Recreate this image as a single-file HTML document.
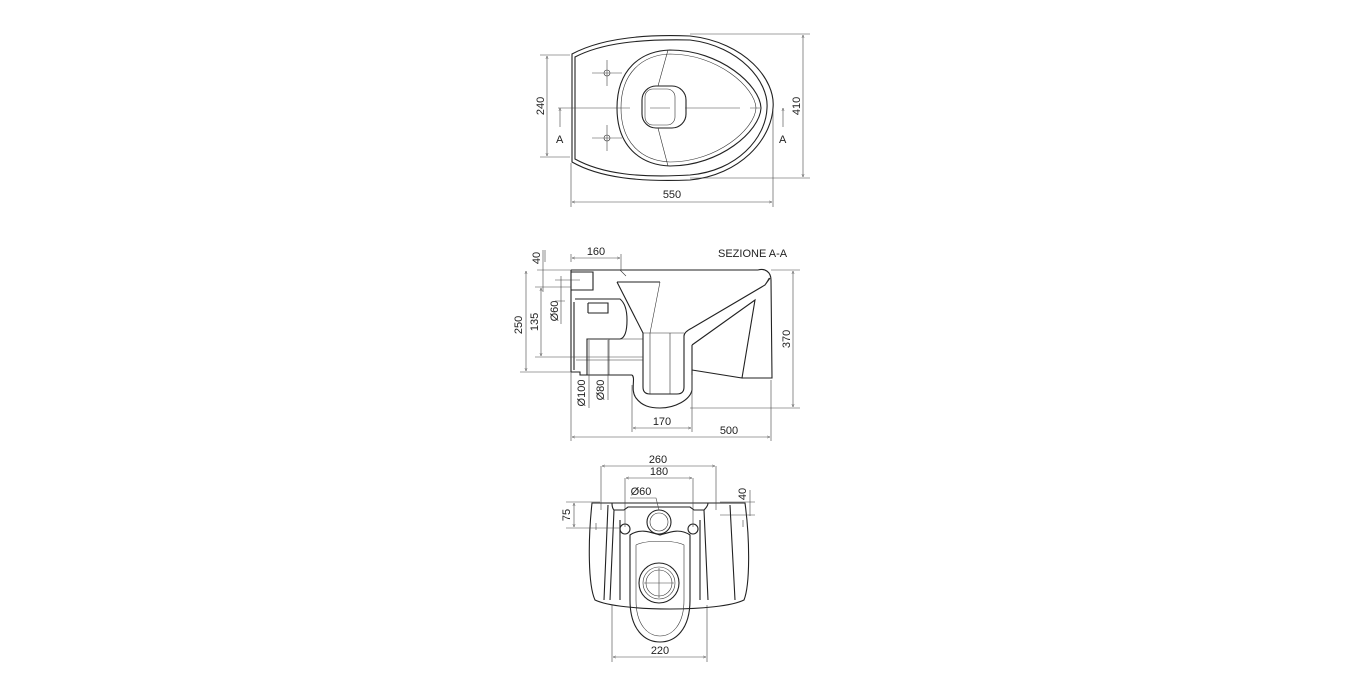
<!DOCTYPE html>
<html><head><meta charset="utf-8"><style>
html,body{margin:0;padding:0;background:#fff;}
svg{display:block;}
text{font-family:"Liberation Sans",sans-serif;font-size:11px;fill:#222;}
.l{fill:none;stroke:#222;stroke-width:1.1;}
.t{fill:none;stroke:#333;stroke-width:0.6;}
.d{fill:none;stroke:#444;stroke-width:0.6;}
</style></head><body>
<svg width="1366" height="678" viewBox="0 0 1366 678" xmlns="http://www.w3.org/2000/svg">
<defs><marker id="a" markerWidth="6" markerHeight="6" refX="5" refY="3" orient="auto-start-reverse"><path d="M0,1 L5,3 L0,5" fill="none" stroke="#444" stroke-width="0.6"/></marker></defs>

<!-- TOP VIEW -->
<path class="l" d="M572,54 C600,39 640,34 690,36 C745,42 776,80 773,108 C771,140 740,175 690,180 C640,182 600,178 572,162 Z"/>
<path class="l" d="M575,57 C602,43 640,39 690,40 C740,46 769,82 767,108 C766,138 737,171 690,175 C640,178 602,174 575,159 Z"/>
<path class="l" d="M617,108 C617,70 640,51 670,50 C720,50 760,85 761,108 C760,131 720,166 670,166 C640,165 617,146 617,108 Z"/>
<path class="t" d="M621,108 C621,73 642,55 670,54 C717,54 755,87 756,108 C755,129 717,162 670,162 C642,161 621,143 621,108 Z"/>
<rect class="l" x="642" y="86" width="44" height="42" rx="14"/>
<rect class="t" x="645" y="89" width="30" height="36" rx="8"/>
<path class="t" d="M668,50 L658,86 M658,128 L668,166"/>
<path class="d" d="M558,108 L630,108 M650,108 L670,108 M685,108 L740,108 M750,108 L760,108"/>
<path class="d" d="M592,73 L622,73 M607,60 L607,86 M592,138 L622,138 M607,125 L607,151"/>
<circle class="t" cx="607" cy="73" r="3"/><circle class="t" cx="607" cy="138" r="3"/>
<path class="d" d="M540,55 L570,55 M540,157 L570,157"/>
<path class="d" marker-start="url(#a)" marker-end="url(#a)" d="M547,56 L547,156"/>
<text transform="translate(544,106) rotate(-90)" text-anchor="middle">240</text>
<path class="d" d="M690,34 L810,34 M690,178 L810,178"/>
<path class="d" marker-start="url(#a)" marker-end="url(#a)" d="M803,35 L803,177"/>
<text transform="translate(800,106) rotate(-90)" text-anchor="middle">410</text>
<path class="d" d="M571,163 L571,207 M773,110 L773,207"/>
<path class="d" marker-start="url(#a)" marker-end="url(#a)" d="M572,202 L772,202"/>
<text x="672" y="198" text-anchor="middle">550</text>
<path class="d" marker-end="url(#a)" d="M560,127 L560,108"/><text x="556" y="143">A</text>
<path class="d" marker-end="url(#a)" d="M783,127 L783,108"/><text x="779" y="143">A</text>

<!-- SECTION VIEW -->
<text x="718" y="257">SEZIONE A-A</text>
<path class="l" d="M571,270 L758,270 M571,270 L571,372 M574,302 L574,370 M571,372 L580,372 L580,375 L632,375"/>
<path class="l" d="M571,272 L593,272 L593,290 L571,290"/>
<path class="l" d="M575,299 L620,299 C625,303 627,310 627,320 C627,330 625,338 620,339 L587,339 L587,375"/>
<path class="l" d="M588,303 L608,303 L608,313 L588,313 M588,303 L588,313"/>
<path class="l" d="M617,282 L660,282 M617,282 L643,333 L643,387 C643,392 646,394 650,394 L677,394 C681,394 684,392 684,387 L684,336 C684,333 688,330 692,328 L765,285 L770,278"/>
<path class="l" d="M632,375 C636,378 630,390 636,398 C642,406 650,408 660,408 C675,408 690,400 692,390 L692,345"/>
<path class="l" d="M692,345 L755,300 L742,378 L692,370"/>
<path class="l" d="M758,270 C765,268 771,272 771,280 L772,378 L742,378"/>
<path class="t" d="M660,282 L650,333 M650,333 L650,394 M670,333 L670,394 M643,333 L684,333 M765,285 L769,278 M620,270 L626,276 M587,339 L643,339 M609,339 L609,375 M576,360 L643,360"/>
<path class="d" d="M571,262 L571,254 M621,270 L621,254"/>
<path class="d" marker-start="url(#a)" marker-end="url(#a)" d="M572,258 L620,258"/>
<text x="596" y="255" text-anchor="middle">160</text>
<path class="d" d="M537,270 L571,270 M545,250 L545,262 M520,372 L571,372 M535,287 L571,287 M535,357 L643,357 M555,280 L580,280 M555,301 L565,301"/>
<path class="d" d="M543,250 L543,292"/>
<text transform="translate(540,258) rotate(-90)" text-anchor="middle">40</text>
<path class="d" marker-start="url(#a)" marker-end="url(#a)" d="M526,271 L526,371"/>
<text transform="translate(522,325) rotate(-90)" text-anchor="middle">250</text>
<path class="d" marker-start="url(#a)" marker-end="url(#a)" d="M541,288 L541,356"/>
<text transform="translate(538,322) rotate(-90)" text-anchor="middle">135</text>
<path class="d" d="M561,276 L561,324"/>
<text transform="translate(558,311) rotate(-90)" text-anchor="middle">Ø60</text>
<path class="d" d="M589,340 L589,408 M608,340 L608,400"/>
<text transform="translate(585,393) rotate(-90)" text-anchor="middle">Ø100</text>
<text transform="translate(604,390) rotate(-90)" text-anchor="middle">Ø80</text>
<path class="d" d="M632,385 L632,432 M692,375 L692,432 M571,372 L571,441 M771,380 L771,441 M771,270 L800,270 M690,408 L800,408"/>
<path class="d" marker-start="url(#a)" marker-end="url(#a)" d="M633,428 L691,428"/>
<text x="662" y="425" text-anchor="middle">170</text>
<path class="d" marker-start="url(#a)" marker-end="url(#a)" d="M572,437 L770,437"/>
<text x="729" y="434" text-anchor="middle">500</text>
<path class="d" marker-start="url(#a)" marker-end="url(#a)" d="M793,271 L793,407"/>
<text transform="translate(790,339) rotate(-90)" text-anchor="middle">370</text>

<!-- BOTTOM VIEW -->
<path class="l" d="M592,503 L745,503 C750,540 750,585 744,600 C720,612 620,612 595,600 C588,585 588,540 592,503 Z"/>
<path class="l" d="M608,505 L604,600 M730,505 L735,600"/>
<path class="l" d="M612,503 C612,505 612,508 614,510 L624,510 L628,507 L690,507 L694,510 L704,510 C706,508 708,505 708,503"/>
<path class="l" d="M614,510 L610,600 M704,510 L708,600"/>
<path class="l" d="M620,520 L620,600 M700,520 L700,600"/>
<path class="l" d="M630,535 C640,528 650,532 660,535 C670,532 680,528 690,535 L690,600 C690,630 675,642 660,642 C645,642 630,630 630,600 Z"/>
<path class="t" d="M636,545 C645,540 675,540 684,545 L684,600 C684,625 672,636 660,636 C648,636 636,625 636,600 Z"/>
<circle class="l" cx="659" cy="522" r="12"/><circle class="t" cx="659" cy="522" r="9"/>
<circle class="l" cx="659" cy="583" r="20"/><circle class="t" cx="659" cy="583" r="16"/><circle class="t" cx="659" cy="583" r="13"/>
<path class="d" d="M644,583 L674,583 M659,568 L659,598"/>
<circle class="l" cx="625" cy="529" r="5"/><circle class="l" cx="693" cy="529" r="5"/>
<path class="d" d="M596,523 L596,530 M743,520 L743,527"/>
<path class="d" d="M601,466 L601,510 M716,466 L716,510"/>
<path class="d" marker-start="url(#a)" marker-end="url(#a)" d="M602,466 L715,466"/>
<text x="658" y="463" text-anchor="middle">260</text>
<path class="d" d="M625,478 L625,527 M693,478 L693,527"/>
<path class="d" marker-start="url(#a)" marker-end="url(#a)" d="M626,478 L692,478"/>
<text x="659" y="475" text-anchor="middle">180</text>
<text x="641" y="495" text-anchor="middle">Ø60</text>
<path class="d" d="M630,498 L656,498 L659,510"/>
<path class="d" d="M720,502 L755,502 M720,515 L755,515"/>
<path class="d" d="M750,490 L750,516"/>
<text transform="translate(746,494) rotate(-90)" text-anchor="middle">40</text>
<path class="d" d="M566,502 L600,502 M566,528 L620,528"/>
<path class="d" marker-start="url(#a)" marker-end="url(#a)" d="M574,503 L574,527"/>
<text transform="translate(570,515) rotate(-90)" text-anchor="middle">75</text>
<path class="d" d="M612,605 L612,662 M707,605 L707,662"/>
<path class="d" marker-start="url(#a)" marker-end="url(#a)" d="M613,657 L706,657"/>
<text x="660" y="654" text-anchor="middle">220</text>
</svg>
</body></html>
